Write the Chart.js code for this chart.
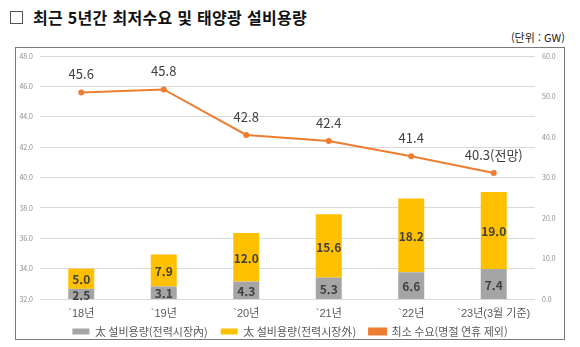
<!DOCTYPE html>
<html lang="ko">
<head>
    <meta charset="UTF-8">
    <title>최근 5년간 최저수요 및 태양광 설비용량</title>
    <script src="https://cdn.jsdelivr.net/npm/chart.js"></script>
    <style>
        html, body { margin: 0; background: #fff; overflow: hidden; font-family: "Noto Sans CJK KR", sans-serif; }
        .page { position: relative; width: 580px; height: 347px; overflow: hidden; }
        .title { position: absolute; left: 10px; top: 5px; font-size: 16px; font-weight: 700; color: #111; letter-spacing: 0.3px; }
        .title .box { display: inline-block; width: 11px; height: 11px; border: 1px solid #555; margin-right: 10px; vertical-align: 0px; }
        .unit { position: absolute; right: 15px; top: 29px; font-size: 11px; color: #222; }
        .chart-box { position: absolute; left: 15px; top: 47px; width: 548px; height: 291px; border: 1px solid #7a7a7a; }
        #chart { position: absolute; left: 16px; top: 48px; }
    </style>
</head>
<body>
<div class="page">
    <div class="title"><span class="box"></span>최근 5년간 최저수요 및 태양광 설비용량</div>
    <div class="unit">(단위 : GW)</div>
    <div class="chart-box"></div>
    <canvas id="chart" width="548" height="307"></canvas>
</div>

<script>
    const years = ['`18년', '`19년', '`20년', '`21년', '`22년', '`23년(3월 기준)'];
    const solarInside = [2.5, 3.1, 4.3, 5.3, 6.6, 7.4];
    const solarOutside = [5.0, 7.9, 12.0, 15.6, 18.2, 19.0];
    const minDemand = [45.6, 45.8, 42.8, 42.4, 41.4, 40.3];
    const demandLabels = ['45.6', '45.8', '42.8', '42.4', '41.4', '40.3(전망)'];

    const FONT = '"Noto Sans CJK KR", sans-serif';
    const LATIN_FONT = '"Liberation Sans", "Noto Sans CJK KR", sans-serif';

    // value labels on bars and above the line points
    const valueLabels = {
        id: 'valueLabels',
        afterDatasetsDraw(chart) {
            const ctx = chart.ctx;
            ctx.save();
            ctx.textAlign = 'center';
            ctx.textBaseline = 'middle';
            chart.data.datasets.forEach((ds, di) => {
                const meta = chart.getDatasetMeta(di);
                meta.data.forEach((el, i) => {
                    if (ds.type === 'line') {
                        ctx.font = '13px ' + FONT;
                        ctx.fillStyle = '#404040';
                        ctx.fillText(demandLabels[i], el.x, el.y - 18);
                    } else {
                        ctx.font = 'bold 12px ' + FONT;
                        ctx.fillStyle = '#404040';
                        ctx.fillText(ds.data[i].toFixed(1), el.x, (el.y + el.base) / 2 + 1);
                    }
                });
            });
            ctx.restore();
        }
    };

    // pull the legend up a little, closer to the category labels
    const legendNudge = {
        id: 'legendNudge',
        afterLayout(chart) {
            chart.legend.top -= 8;
            chart.legend.bottom -= 8;
        }
    };

    // fixed side widths and top room so the plot box lands where the original does
    const sideAxisFit = w => s => { s.width = w; s.paddingTop = 8; };

    new Chart(document.getElementById('chart'), {
        data: {
            labels: years,
            datasets: [
                {
                    type: 'bar',
                    label: '太 설비용량(전력시장內)',
                    data: solarInside,
                    yAxisID: 'y2',
                    backgroundColor: '#a5a5a5',
                    barPercentage: 0.315,
                    categoryPercentage: 1,
                    order: 1
                },
                {
                    type: 'bar',
                    label: '太 설비용량(전력시장外)',
                    data: solarOutside,
                    yAxisID: 'y2',
                    backgroundColor: '#ffc000',
                    barPercentage: 0.315,
                    categoryPercentage: 1,
                    order: 1
                },
                {
                    type: 'line',
                    label: '최소 수요(명절 연휴 제외)',
                    data: minDemand,
                    yAxisID: 'y',
                    borderColor: '#ed7d31',
                    backgroundColor: '#ed7d31',
                    borderWidth: 2,
                    pointRadius: 2,
                    pointBackgroundColor: '#ed7d31',
                    tension: 0,
                    order: 0
                }
            ]
        },
        options: {
            responsive: false,
            animation: false,
            layout: { padding: { top: 0, left: 0, right: 0, bottom: 0 } },
            scales: {
                x: {
                    stacked: true,
                    grid: { display: false, drawTicks: false },
                    border: { display: false },
                    ticks: { color: '#595959', font: { family: LATIN_FONT, size: 11 }, padding: 8 },
                    afterFit: s => { s.height = 22; }
                },
                y: {
                    position: 'left',
                    min: 32,
                    max: 48,
                    ticks: { stepSize: 2, color: '#8c8c8c', font: { family: FONT, size: 7 }, padding: 7,
                        callback: v => v.toFixed(1) },
                    grid: { color: '#d9d9d9', drawTicks: false },
                    border: { display: false },
                    afterFit: sideAxisFit(24)
                },
                y2: {
                    position: 'right',
                    stacked: true,
                    min: 0,
                    max: 60,
                    ticks: { stepSize: 10, color: '#8c8c8c', font: { family: FONT, size: 7 }, padding: 7,
                        callback: v => v.toFixed(1) },
                    grid: { display: false, drawTicks: false },
                    border: { display: false },
                    afterFit: sideAxisFit(29)
                }
            },
            plugins: {
                legend: {
                    position: 'bottom',
                    labels: {
                        color: '#595959',
                        font: { family: FONT, size: 11 },
                        boxWidth: 17,
                        boxHeight: 6,
                        padding: 13,
                        sort: (a, b) => a.datasetIndex - b.datasetIndex
                    }
                },
                tooltip: { enabled: false }
            }
        },
        plugins: [valueLabels, legendNudge]
    });
</script>
</body>
</html>
